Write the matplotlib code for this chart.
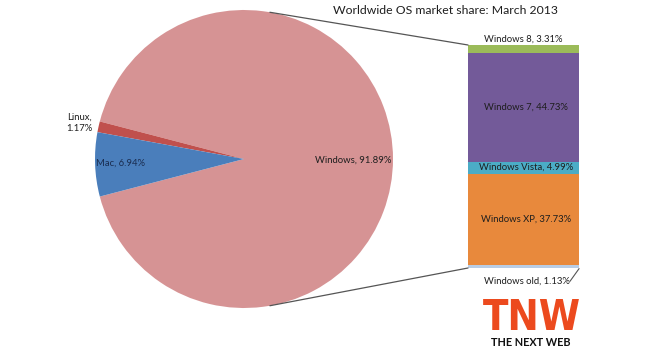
import matplotlib.pyplot as plt
from matplotlib.patches import ConnectionPatch
import numpy as np

plt.rcParams['font.family'] = ['Lato', 'DejaVu Sans']

# pie data (Windows, Linux, Mac)
pie_labels = ["Windows", "Linux", "Mac"]
pie_values = [91.89, 1.17, 6.94]
pie_colors = ["#D69394", "#C0504D", "#4A7EBB"]

# breakdown of Windows, bottom to top
win_labels = ["Windows old", "Windows XP", "Windows Vista", "Windows 7", "Windows 8"]
win_values = [1.13, 37.73, 4.99, 44.73, 3.31]
win_colors = ["#B9CDE5", "#E8893C", "#4BACC6", "#735A99", "#9BBB59"]

W, H = 650, 351
fig = plt.figure(figsize=(W / 100, H / 100), dpi=100)

# pie axes: center (244,159) px, radius 149 px
cx, cy, r = 244, 159, 149
ax = fig.add_axes([(cx - r) / W, (H - cy - r) / H, 2 * r / W, 2 * r / H])
wedges, _ = ax.pie(pie_values, colors=pie_colors, startangle=194.6, counterclock=True,
                   radius=1, wedgeprops=dict(linewidth=0))
ax.set_xlim(-1, 1)
ax.set_ylim(-1, 1)
ax.axis("off")

txt = "#1E1E1E"
fs = 6.8
ax.text(0.73, -0.01, f"{pie_labels[0]}, {pie_values[0]:.2f}%", ha="center", va="center", fontsize=fs, color=txt)
ax.text(-1.02, 0.24, f"{pie_labels[1]},\n{pie_values[1]:.2f}%", ha="right", va="center", fontsize=fs,
        color=txt, linespacing=1.35)
ax.text(-0.83, -0.03, f"{pie_labels[2]}, {pie_values[2]:.2f}%", ha="center", va="center", fontsize=fs,
        color="#1A2D50")

# stacked bar axes
bx0, bx1, by0, by1 = 468, 579, 45, 268
bx = fig.add_axes([bx0 / W, (H - by1) / H, (bx1 - bx0) / W, (by1 - by0) / H])
bottom = 0
for lab, val, col in zip(win_labels, win_values, win_colors):
    bx.bar(0, val, bottom=bottom, width=1, color=col, linewidth=0)
    mid = bottom + val / 2
    if lab in ("Windows 7", "Windows Vista", "Windows XP"):
        bx.text(0.02, mid, f"{lab}, {val:.2f}%", ha="center", va="center", fontsize=fs, color=txt)
    bottom += val
total = bottom
bx.set_xlim(-0.5, 0.5)
bx.set_ylim(0, total)
bx.axis("off")

bx.text(0.0, total + 0.6, f"{win_labels[4]}, {win_values[4]:.2f}%", ha="center", va="bottom",
        fontsize=fs, color=txt)
bx.text(0.03, -5.6, f"{win_labels[0]}, {win_values[0]:.2f}%", ha="center", va="center",
        fontsize=fs, color=txt)
bx.plot([0.42, 0.5], [-5.4, -0.3], color="#555555", lw=0.8, clip_on=False)

# connector lines between pie and bar
for ang, yb in [(np.deg2rad(80), total), (np.deg2rad(-80), 0)]:
    con = ConnectionPatch(xyA=(np.cos(ang), np.sin(ang)), coordsA=ax.transData,
                          xyB=(-0.5, yb), coordsB=bx.transData, color="#555555", lw=0.9)
    fig.add_artist(con)

fig.text(445 / W, 1 - 11 / H, "Worldwide OS market share: March 2013", ha="center", va="center",
         fontsize=8.8, color=txt)

# TNW logo
fig.text(532 / W, 1 - 318 / H, "TNW", ha="center", va="center", fontsize=30, color="#EC4A1E",
         family="DejaVu Sans", fontweight="bold", fontstretch="condensed")
fig.text(531 / W, 1 - 343 / H, "THE NEXT WEB", ha="center", va="center", fontsize=7.8,
         fontweight="bold", color="#111111")

fig.savefig("out.png", dpi=100, facecolor="white")
